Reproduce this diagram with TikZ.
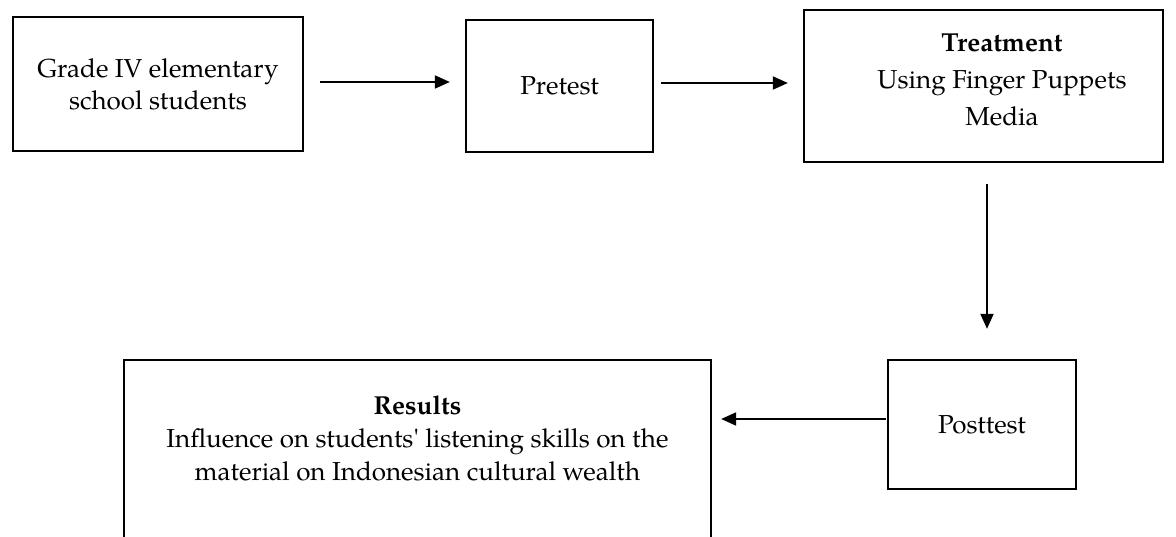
\documentclass[tikz,border=0pt]{standalone}
\usepackage{fontspec}
\setmainfont{TeX Gyre Pagella}
\newfontfamily\plainpag{TeX Gyre Pagella}
\usetikzlibrary{arrows.meta}
\begin{document}
\begin{tikzpicture}[x=1pt,y=-1pt,
  box/.style={draw, line width=2.3pt, inner sep=0pt, align=center,
    font=\fontsize{26}{32}\selectfont},
  txt/.style={inner sep=0pt, align=center},
  arr/.style={line width=1.9pt, -{Triangle[length=15pt,width=13pt]}}]
\useasboundingbox (0,0) rectangle (1176,537);
\clip (0,0) rectangle (1176,537);
\node[box, minimum width=290, minimum height=134] (b1) at (158,84)
  {Grade IV elementary\\school students};
\node[box, minimum width=187, minimum height=132] (b2) at (559.5,86) {Pretest};
\node[box, minimum width=359, minimum height=152] (b3) at (983.5,86) {};
\node[txt, font=\fontsize{26}{37}\selectfont] (t3) at (1002,80)
  {\textbf{Treatment}\\Using Finger Puppets\\Media};
\node[box, minimum width=188, minimum height=129] (b4) at (982,424.5) {Posttest};
\node[box, minimum width=587, minimum height=240, anchor=north] (b5) at (417.5,359) {};
\node[txt, font=\fontsize{26}{33}\selectfont] (t5) at (417.5,438)
  {\textbf{Results}\\Influence on students{\plainpag'} listening skills on the\\material on Indonesian cultural wealth};
\draw[arr, shorten <=16pt, shorten >=15pt] ([yshift=2pt]b1.east) -- ([yshift=2pt]b1.east -| b2.west);
\draw[arr, shorten <=7pt, shorten >=15pt] ([yshift=3pt]b2.east) -- ([yshift=3pt]b2.east -| b3.west);
\draw[arr, shorten <=21pt, shorten >=30pt] ([xshift=3.5pt]b3.south) -- ([xshift=3.5pt]b3.south |- b4.north);
\draw[arr, shorten <=1pt, shorten >=9pt] ([yshift=5.5pt]b4.west) -- ([yshift=5.5pt]b4.west -| b5.east);
\end{tikzpicture}
\end{document}
